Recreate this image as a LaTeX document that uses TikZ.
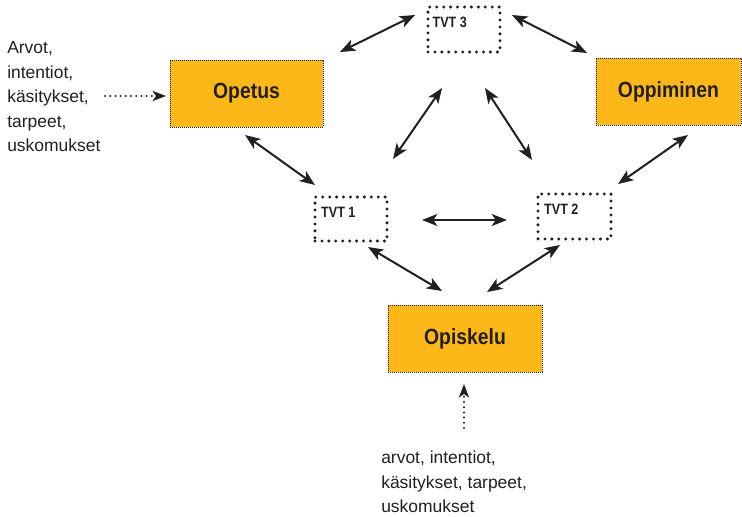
\documentclass[tikz,border=0pt]{standalone}
\usepackage{fontspec}
\setmainfont{Liberation Sans}
\newfontfamily\condbold[FakeStretch=0.88]{Liberation Sans Bold}
\newfontfamily\tvtbold[FakeStretch=0.84]{Liberation Sans Bold}
\usetikzlibrary{arrows.meta}
\definecolor{boxorange}{RGB}{252,184,24}
\definecolor{inkdark}{RGB}{35,31,32}
\tikzset{
  mainbox/.style={draw=inkdark, line width=0.6pt, dash pattern=on 0.7pt off 0.8pt,
    fill=boxorange, minimum height=50.25pt, inner sep=0pt,
    font=\fontsize{16.5}{19}\condbold, text=inkdark},
  tvtbox/.style={draw=inkdark, line width=2.5pt, line cap=round, dash pattern=on 0pt off 5.2pt,
    minimum width=54pt, minimum height=34pt, inner sep=0pt},
  tvtlabel/.style={anchor=north west, inner sep=0pt, xshift=4.5pt, yshift=-8.5pt,
    font=\fontsize{11.25}{13}\tvtbold, text=inkdark},
  bothway/.style={{Stealth[length=11.5pt,width=9pt,inset=3pt]}-{Stealth[length=11.5pt,width=9pt,inset=3pt]},
    line width=1.5pt, draw=inkdark},
  dotarrow/.style={-{Stealth[length=10pt,width=7.5pt,inset=2.5pt]}, line width=1.7pt,
    dash pattern=on 0pt off 3.9pt, line cap=round, draw=inkdark},
  plaintext/.style={anchor=north west, inner sep=0pt, align=left, text=inkdark,
    font=\fontsize{13.1}{18.4}\selectfont}
}
\begin{document}
\begin{tikzpicture}[x=0.75pt, y=-0.75pt]
\useasboundingbox (0,0) rectangle (742,517);
% main boxes
\node[mainbox, minimum width=114.75pt] (opetus) at (246.5,93.5) {Opetus};
\node[mainbox, minimum width=108.75pt] (oppiminen) at (668.5,91.5) {Oppiminen};
\node[mainbox, minimum width=115.5pt] (opiskelu) at (465,338.5) {Opiskelu};
% TVT boxes
\node[tvtbox, minimum height=33.75pt, label={[tvtlabel]north west:TVT 3}] (tvt3) at (464,29.5) {};
\node[tvtbox, minimum height=33pt, label={[tvtlabel, xshift=1.2pt]north west:TVT 1}] (tvt1) at (351,219) {};
\node[tvtbox, minimum width=54.75pt, minimum height=33.75pt, label={[tvtlabel, xshift=1.2pt]north west:TVT 2}] (tvt2) at (574.5,216.5) {};
% side texts
\node[plaintext] (lefttext) at (7,41.5) {Arvot,\\intentiot,\\käsitykset,\\tarpeet,\\uskomukset};
\node[plaintext] (bottomtext) at (381,451) {arvot, intentiot,\\käsitykset, tarpeet,\\uskomukset};
% arrow end points
\coordinate (a1) at (340,52);  \coordinate (b1) at (415,15);
\coordinate (a2) at (512,15);  \coordinate (b2) at (587,53);
\coordinate (a3) at (393,159); \coordinate (b3) at (442,88);
\coordinate (a4) at (532,160); \coordinate (b4) at (485,88);
\coordinate (a5) at (245,135); \coordinate (b5) at (315,185);
\coordinate (a6) at (422,220); \coordinate (b6) at (507,220);
\coordinate (a7) at (688,135); \coordinate (b7) at (618,184);
\coordinate (a8) at (368,247); \coordinate (b8) at (442,291);
\coordinate (a9) at (560,245); \coordinate (b9) at (487,292);
\coordinate (d1) at (105,96);  \coordinate (e1) at (166,96);
\coordinate (d2) at (464,428); \coordinate (e2) at (464,384);
% connectors
\draw[bothway] (a1) -- (b1);
\draw[bothway] (a2) -- (b2);
\draw[bothway] (a3) -- (b3);
\draw[bothway] (a4) -- (b4);
\draw[bothway] (a5) -- (b5);
\draw[bothway] (a6) -- (b6);
\draw[bothway] (a7) -- (b7);
\draw[bothway] (a8) -- (b8);
\draw[bothway] (a9) -- (b9);
\draw[dotarrow] (d1) -- (e1);
\draw[dotarrow] (d2) -- (e2);
\end{tikzpicture}
\end{document}
